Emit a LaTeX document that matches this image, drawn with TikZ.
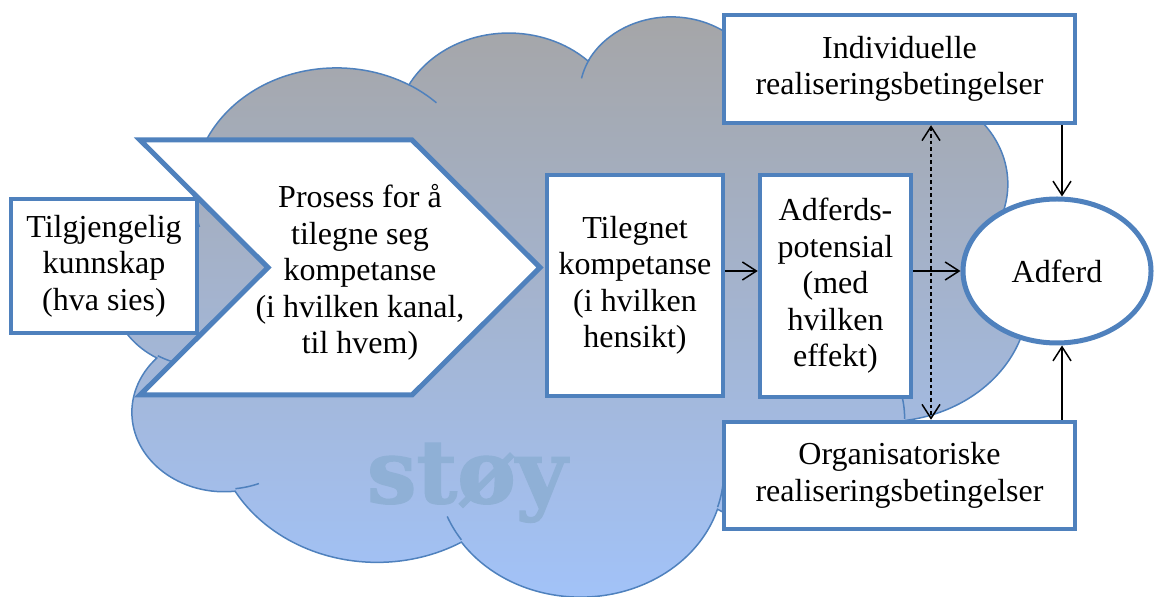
\documentclass[tikz,border=0pt]{standalone}
\usepackage{fontspec}
\setmainfont{Liberation Serif}
\newfontfamily\stoyfont[BoldFeatures={FakeBold=1.6}]{DejaVu Serif}
\usetikzlibrary{arrows.meta,calc,shapes.geometric}
\definecolor{bl}{RGB}{79,129,189}
\definecolor{cltop}{RGB}{165,165,166}
\definecolor{clmid}{RGB}{190,206,242}
\definecolor{clbot}{RGB}{162,195,250}
\definecolor{stoyc}{RGB}{143,176,214}
\newcommand\ooarc[5]{%
  \pgfmathsetmacro\tmpStart{atan2((#2)*sin(#4),(#3)*cos(#4))}%
  \pgfmathsetmacro\tmpEnd{atan2((#2)*sin((#4)+(#5)),(#3)*cos((#4)+(#5)))}%
  \pgfmathsetmacro\tmpDelta{mod(\tmpEnd-\tmpStart+720,360)}%
  \expandafter\xdef\csname cld#1\endcsname{arc[x radius=#2, y radius=#3, start angle=\tmpStart, delta angle=\tmpDelta]}%
}
\tikzset{
  box/.style={draw=bl, line width=2.25pt, fill=white, align=center, inner sep=0pt,
    font=\fontsize{16}{18.25}\selectfont},
  txt/.style={align=center, inner sep=0pt, font=\fontsize{16}{18.25}\selectfont},
  chev/.style={draw=bl, line width=2.5pt, fill=white, line join=miter},
  cloudfill/.style={draw=bl, line width=0.75pt, top color=cltop, middle color=clmid, bottom color=clbot},
  cloudline/.style={draw=bl, line width=0.75pt},
  arr/.style={-{Straight Barb[length=7pt,width=9pt]}, line width=0.75pt, black},
  darr/.style={{Straight Barb[length=7pt,width=9pt]}-{Straight Barb[length=7pt,width=9pt]}, line width=0.75pt, black, dash pattern=on 1.8pt off 1.5pt},
}
\begin{document}
\begin{tikzpicture}[x=0.5pt,y=-0.5pt]
\useasboundingbox (0,0) rectangle (1155,597);
% cloud arcs (Office cloud geometry, units of 100)
\ooarc{A}{67.53}{91.90}{-190.4875}{123.7805}
\ooarc{B}{53.33}{72.67}{-144.1024}{89.9452}
\ooarc{C}{43.65}{59.45}{-145.8079}{99.7230}
\ooarc{D}{48.57}{65.95}{-130.9861}{117.2417}
\ooarc{E}{53.33}{72.73}{-78.7089}{109.0269}
\ooarc{F}{67.75}{92.20}{-46.2673}{130.2690}
\ooarc{G}{57.85}{78.67}{0.6250}{114.0333}
\ooarc{H}{67.52}{92.15}{22.4516}{115.1726}
\ooarc{I}{77.20}{105.43}{66.2426}{75.7110}
\ooarc{J}{43.60}{59.18}{-274.9421}{146.7356}
\ooarc{K}{43.45}{59.45}{-246.8285}{152.5189}
\ooarc{da}{43.45}{59.45}{86.742}{26.4295}
\ooarc{db}{43.60}{59.18}{73.6105}{11.4475}
\ooarc{dc}{67.52}{92.15}{137.6242}{14.0811}
\ooarc{dd}{67.52}{92.15}{6.4533}{15.9984}
\ooarc{de}{57.85}{78.67}{-70.2924}{70.9174}
\ooarc{df}{53.33}{72.73}{30.3180}{27.7515}
\ooarc{dg}{48.57}{65.95}{-13.7443}{14.8589}
\ooarc{dh}{48.57}{65.95}{-149.1815}{18.1954}
\ooarc{di}{43.65}{59.45}{-163.4943}{17.6864}
\ooarc{dj}{67.53}{91.90}{-66.7070}{12.3194}
\ooarc{dk}{67.53}{91.90}{157.6544}{11.8582}
\begin{scope}[shift={(112,15)}, x=1.0602pt, y=-0.6713pt]
  \edef\cloudcmd{\noexpand\path[cloudfill] (39.00,143.70) \cldA\space\cldB\space\cldC\space\cldD\space\cldE\space\cldF\space\cldG\space\cldH\space\cldI\space\cldJ\space\cldK\space -- cycle;}
  \cloudcmd
  \edef\cloudcmd{\noexpand\draw[cloudline] (46.93,261.77) \cldda; \noexpand\draw[cloudline] (69.28,348.99) \clddb; \noexpand\draw[cloudline] (164.78,390.90) \clddc; \noexpand\draw[cloudline] (288.27,347.51) \clddd;}
  \cloudcmd
  \edef\cloudcmd{\noexpand\draw[cloudline] (341.29,229.54) \cldde; \noexpand\draw[cloudline] (417.98,153.54) \clddf; \noexpand\draw[cloudline] (383.24,54.26) \clddg; \noexpand\draw[cloudline] (290.78,39.52) \clddh;}
  \cloudcmd
  \edef\cloudcmd{\noexpand\draw[cloudline] (221.41,47.20) \clddi; \noexpand\draw[cloudline] (140.00,51.92) \clddj; \noexpand\draw[cloudline] (41.27,157.89) \clddk;}
  \cloudcmd
\end{scope}
% noise label
\node[anchor=base, inner sep=0pt, text=stoyc, font=\stoyfont\bfseries\fontsize{44}{44}\selectfont] (stoy) at (467,503) {støy};
% boxes
\node[box, minimum width=93pt, minimum height=67pt] (tilg) at (104,266) {Tilgjengelig\\kunnskap\\(hva sies)};
\draw[chev] (140,140) -- (412,140) -- (540,267.5) -- (412,395) -- (140,395) -- (268,267.5) -- cycle;
\node[txt] (proc) at (360,272.5) {Prosess for å\\tilegne seg\\kompetanse\\(i hvilken kanal,\\til hvem)};
\node[box, minimum width=88pt, minimum height=110.5pt] (teg) at (635,285.5) {Tilegnet\\kompetanse\\(i hvilken\\hensikt)};
\node[box, minimum width=75.5pt, minimum height=111pt] (adp) at (835.5,286) {Adferds-\\potensial\\(med\\hvilken\\effekt)};
\node[box, minimum width=175.5pt, minimum height=54pt] (ind) at (899.5,69) {Individuelle\\realiseringsbetingelser};
\node[box, minimum width=175.5pt, minimum height=53.5pt] (org) at (899.5,475.5) {Organisatoriske\\realiseringsbetingelser};
\node[box, ellipse, line width=2.5pt, minimum width=94pt, minimum height=72pt] (adf) at (1057,271) {Adferd};
% connectors
\coordinate (vx) at (1062,0);
\coordinate (dx) at (931,0);
\draw[arr] (teg.east |- adf.center) -- (adp.west |- adf.center);
\draw[arr] (adp.east |- adf.center) -- (adf.west);
\draw[arr] (ind.south -| vx) -- (adf.north -| vx);
\draw[arr] (org.north -| vx) -- (adf.south -| vx);
\draw[darr] (ind.south -| dx) -- (org.north -| dx);
\end{tikzpicture}
\end{document}
